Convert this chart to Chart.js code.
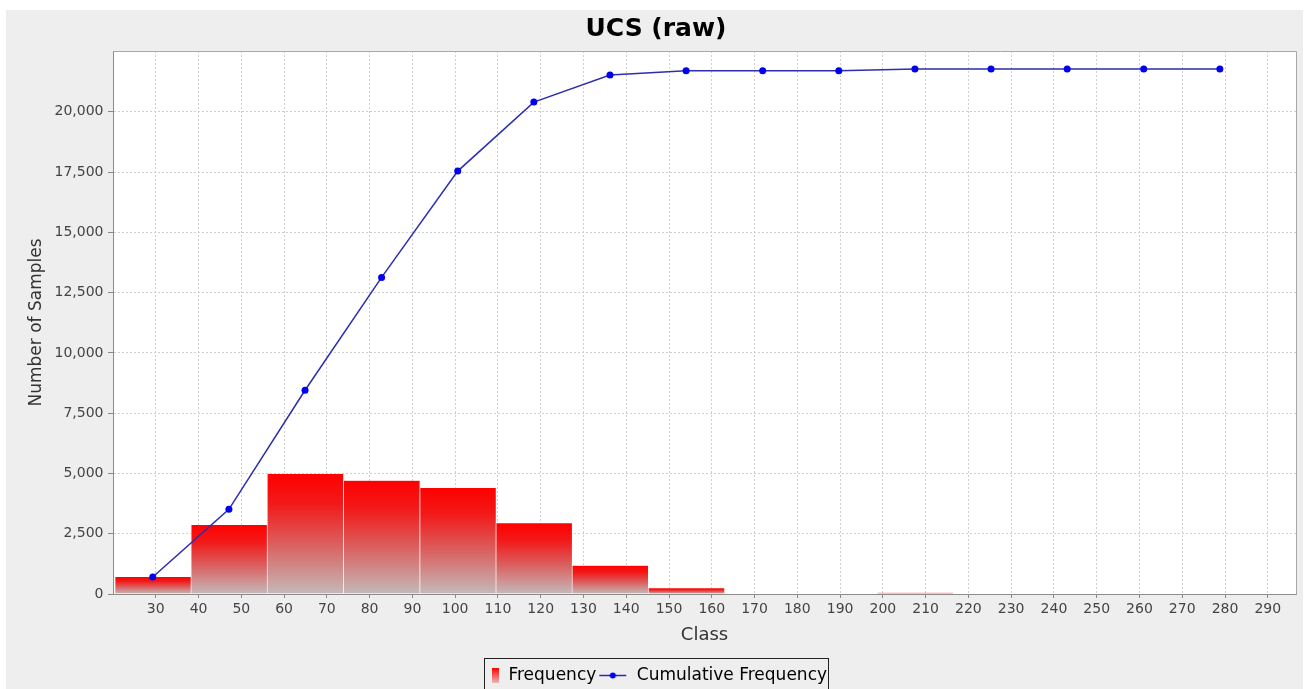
<!DOCTYPE html>
<html>
<head>
<meta charset="utf-8">
<title>UCS (raw)</title>
<script src="https://cdn.jsdelivr.net/npm/chart.js@4.4.1/dist/chart.umd.min.js"></script>
<style>
  html, body { margin: 0; padding: 0; background: #fff; overflow: hidden; }
  #wrap { position: absolute; left: 0; top: 0; width: 1303px; height: 694px; }
</style>
</head>
<body>
<div id="wrap"><canvas id="ucs" width="1303" height="694"></canvas></div>
<script>
// ===== 数据=====
// 各分组中心（Class）；柱宽取相邻中心间距（barThickness: 'flex'）
const binCenters = [29.3, 47.1, 64.9, 82.8, 100.6, 118.4, 136.2, 154.0, 171.9, 189.7, 207.5, 225.3, 243.1, 261.0, 278.8];
const frequency  = [705, 2860, 4975, 4700, 4395, 2930, 1175, 235, 0, 0, 50, 0, 0, 0, 0];
const cumulative = [705, 3510, 8450, 13130, 17540, 20400, 21520, 21700, 21700, 21700, 21770, 21770, 21770, 21770, 21770];
const xTicks = [30, 40, 50, 60, 70, 80, 90, 100, 110, 120, 130, 140, 150, 160, 170, 180, 190, 200, 210, 220, 230, 240, 250, 260, 270, 280, 290];
const yTicks = [0, 2500, 5000, 7500, 10000, 12500, 15000, 17500, 20000];
const xRange = [20.0, 296.6];
const yRange = [0, 22520];

const FONT = '"DejaVu Sans", sans-serif';

// 柱子渐变：顶部纯红 → 底部灰粉
function barGradient(ctx, top, bottom) {
    const g = ctx.createLinearGradient(0, top, 0, bottom);
    g.addColorStop(0, '#ff0000');
    g.addColorStop(0.25, '#f21a1a');
    g.addColorStop(0.6, '#da6262');
    g.addColorStop(1, '#c4baba');
    return g;
}

// 图例小图标（画在离屏 canvas 上，交给 legend 的 pointStyle）
function makeSwatch() {
    const c = document.createElement('canvas');
    c.width = 31; c.height = 15;
    const x = c.getContext('2d');
    const g = x.createLinearGradient(0, 0, 0, 15);
    g.addColorStop(0, '#ff0000');
    g.addColorStop(1, '#eab8b8');
    x.fillStyle = g;
    x.fillRect(23, 0, 7, 15);
    return c;
}
function makeLineMarker() {
    const c = document.createElement('canvas');
    c.width = 31; c.height = 9;
    const x = c.getContext('2d');
    x.strokeStyle = '#2b2ba8';
    x.lineWidth = 1.5;
    x.beginPath(); x.moveTo(2, 4.5); x.lineTo(29, 4.5); x.stroke();
    x.fillStyle = '#0000ee';
    x.beginPath(); x.arc(15.5, 4.5, 3, 0, Math.PI * 2); x.fill();
    return c;
}
const swatchIcon = makeSwatch();
const lineIcon = makeLineMarker();

// 灰色面板 + 白色绘图区 + 绘图区上/右边框 + 图例外框
const framePlugin = {
    id: 'frame',
    afterLayout(chart) {
        // 标题居中于灰色面板（面板左侧留有 6px 白边）
        if (chart.titleBlock) chart.titleBlock.left += 16;
    },
    beforeDraw(chart) {
        const { ctx, chartArea: a } = chart;
        ctx.save();
        ctx.fillStyle = '#eeeeee';
        ctx.fillRect(6, 10, 1297, chart.height - 10);
        ctx.fillStyle = '#ffffff';
        ctx.fillRect(a.left, a.top, a.right - a.left, a.bottom - a.top);
        ctx.restore();
    },
    afterDraw(chart) {
        const { ctx, chartArea: a } = chart;
        ctx.save();
        ctx.strokeStyle = '#a8a8a8';
        ctx.lineWidth = 1;
        ctx.beginPath();
        ctx.moveTo(Math.round(a.left) + 0.5, Math.round(a.top) + 0.5);
        ctx.lineTo(Math.round(a.right) + 0.5, Math.round(a.top) + 0.5);
        ctx.lineTo(Math.round(a.right) + 0.5, Math.round(a.bottom) + 0.5);
        ctx.stroke();

        const hb = chart.legend && chart.legend.legendHitBoxes;
        if (hb && hb.length > 1) {
            const left = Math.round(hb[0].left + 15) + 0.5;
            const right = Math.round(hb[1].left + hb[1].width + 1) + 0.5;
            const top = Math.round(hb[0].top - 9) + 0.5;
            ctx.strokeStyle = '#222';
            ctx.strokeRect(left, top, right - left, chart.height - top + 10);
        }
        ctx.restore();
    }
};

const ctx = document.getElementById('ucs').getContext('2d');

new Chart(ctx, {
    type: 'bar',
    data: {
        datasets: [
            {
                type: 'bar',
                label: 'Frequency',
                data: binCenters.map((x, i) => ({ x, y: frequency[i] })),
                backgroundColor: (c) => {
                    const chart = c.chart;
                    if (c.type !== 'data' || !chart.chartArea) return '#ff0000';
                    const y = chart.scales.y;
                    return barGradient(chart.ctx, y.getPixelForValue(c.parsed.y), y.getPixelForValue(0));
                },
                borderColor: 'rgba(255,225,225,0.7)',
                borderWidth: { left: 1, right: 0, top: 0, bottom: 0 },
                borderSkipped: false,
                barThickness: 'flex',
                barPercentage: 1,
                categoryPercentage: 1,
                order: 1
            },
            {
                type: 'line',
                label: 'Cumulative Frequency',
                data: binCenters.map((x, i) => ({ x, y: cumulative[i] })),
                borderColor: '#2d2db0',
                borderWidth: 1.5,
                pointRadius: 3.5,
                pointBorderWidth: 0,
                pointBackgroundColor: '#0000ee',
                tension: 0,
                order: 0
            }
        ]
    },
    options: {
        responsive: false,
        animation: false,
        events: [],
        layout: { padding: { left: 0, right: 7, top: 10, bottom: 0 } },
        plugins: {
            title: {
                display: true,
                text: 'UCS (raw)',
                color: '#000',
                font: { family: FONT, size: 25, weight: 'bold' },
                padding: { top: 4.6, bottom: 6.4 }
            },
            legend: {
                display: true,
                position: 'bottom',
                labels: {
                    usePointStyle: true,
                    pointStyleWidth: 31,
                    padding: 1,
                    color: '#000',
                    font: { family: FONT, size: 17 },
                    generateLabels: () => [
                        { text: 'Frequency', pointStyle: swatchIcon, fillStyle: '#ff0000', strokeStyle: 'transparent', lineWidth: 0, hidden: false, datasetIndex: 0 },
                        { text: 'Cumulative Frequency', pointStyle: lineIcon, fillStyle: '#0000ee', strokeStyle: 'transparent', lineWidth: 0, hidden: false, datasetIndex: 1 }
                    ]
                }
            },
            tooltip: { enabled: false }
        },
        scales: {
            x: {
                type: 'linear',
                min: xRange[0],
                max: xRange[1],
                offset: false,
                afterBuildTicks: (s) => { s.ticks = xTicks.map(v => ({ value: v })); },
                afterFit: (s) => { s.height = 72; },
                ticks: {
                    color: '#444',
                    font: { family: FONT, size: 14 },
                    padding: 2.8,
                    maxRotation: 0,
                    autoSkip: false
                },
                grid: { offset: false, color: '#d0d0d0', tickColor: '#888', tickLength: 4 },
                border: { color: '#8c8c8c', width: 1, dash: [2, 2] },
                title: {
                    display: true,
                    text: 'Class',
                    color: '#333',
                    font: { family: FONT, size: 18 },
                    padding: { top: 0, bottom: 19.7 }
                }
            },
            y: {
                type: 'linear',
                min: yRange[0],
                max: yRange[1],
                afterBuildTicks: (s) => { s.ticks = yTicks.map(v => ({ value: v })); },
                afterFit: (s) => { s.width = 113; },
                ticks: {
                    color: '#444',
                    font: { family: FONT, size: 14 },
                    padding: 4.5,
                    autoSkip: false,
                    callback: (v) => v.toLocaleString('en-US')
                },
                grid: { color: '#d0d0d0', tickColor: '#888', tickLength: 5 },
                border: { color: '#8c8c8c', width: 1, dash: [2, 2] },
                title: {
                    display: true,
                    text: 'Number of Samples',
                    color: '#333',
                    font: { family: FONT, size: 17 },
                    padding: { top: 25.9, bottom: 0 }
                }
            }
        }
    },
    plugins: [framePlugin]
});
</script>
</body>
</html>
